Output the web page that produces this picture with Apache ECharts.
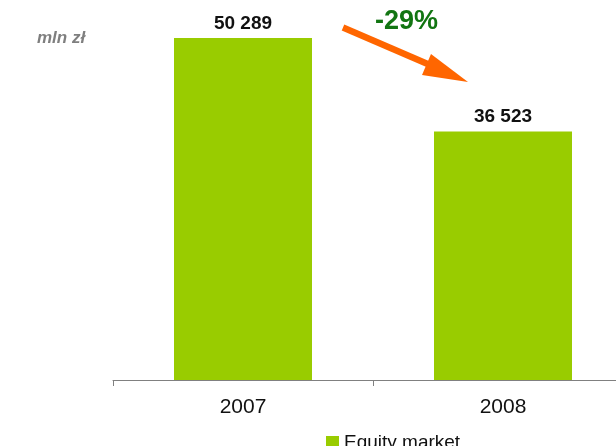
<!DOCTYPE html>
<html><head><meta charset="utf-8">
<script src="https://cdn.jsdelivr.net/npm/echarts@6/dist/echarts.min.js"></script>
<style>html,body{margin:0;padding:0;background:#fff}#c{width:616px;height:446px}</style>
</head><body><div id="c"></div>
<script>
var categories = ['2007', '2008'];
var equityValues = [50289, 36523];
var seriesName = 'Equity market';
var unitLabel = 'mln zł';
var changeLabel = '-29%';

function fmt(v){ return String(v).replace(/\B(?=(\d{3})+(?!\d))/g, ' '); }

var FONT = 'Liberation Sans, Arial, sans-serif';
var chart = echarts.init(document.getElementById('c'), null, {renderer:'canvas'});
chart.setOption({
  animation: false,
  textStyle: {fontFamily: FONT},
  grid: {left: 113, width: 520, top: 38, bottom: 66, containLabel: false, outerBoundsMode: 'none'},
  legend: {
    top: 428, left: 321, itemWidth: 13, itemHeight: 13, itemGap: 5,
    icon: 'rect',
    textStyle: {fontSize: 19, color: '#111', fontFamily: FONT},
    data: [seriesName]
  },
  xAxis: {
    type: 'category', data: categories,
    axisLine: {lineStyle: {color: '#808080', width: 1}},
    axisTick: {show: true, length: 6, lineStyle: {color: '#808080', width: 1}},
    axisLabel: {fontSize: 21, color: '#111', margin: 17}
  },
  yAxis: {type: 'value', min: 0, max: 50289, show: false, splitLine: {show: false}},
  series: [{
    name: seriesName, type: 'bar', data: equityValues, barWidth: 138,
    itemStyle: {color: '#99CC00'},
    label: {show: true, position: 'top', distance: 5, fontSize: 19, fontWeight: 'bold', color: '#111',
      formatter: function(p){ return fmt(p.value); }}
  }],
  graphic: [
    {type: 'text', style: {x: 37, y: 38, text: unitLabel, fill: '#7f7f7f', verticalAlign: 'middle', font: 'italic bold 17px Liberation Sans, Arial, sans-serif'}},
    {type: 'text', style: {x: 375, y: 22, text: changeLabel, fill: '#127512', verticalAlign: 'middle', font: 'bold 27px Liberation Sans, Arial, sans-serif'}},
    {type: 'line', shape: {x1: 343, y1: 27.5, x2: 430, y2: 65}, style: {stroke: '#FF6600', lineWidth: 6.5}},
    {type: 'polygon', shape: {points: [[468, 82], [422, 75], [431, 54]]}, style: {fill: '#FF6600'}}
  ]
});
</script></body></html>
